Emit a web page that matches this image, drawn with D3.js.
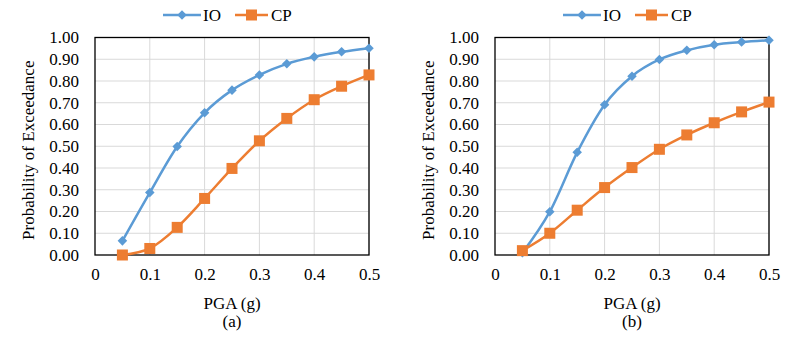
<!DOCTYPE html>
<html>
<head>
<meta charset="utf-8">
<script src="https://cdn.jsdelivr.net/npm/d3@7/dist/d3.min.js"></script>
<style>
  html, body { margin: 0; padding: 0; background: #fff; }
  svg, svg text { font-family: "Liberation Serif", "Times New Roman", Times, serif !important; }
</style>
</head>
<body>
<svg id="chart" width="800" height="355"></svg>
<script>
// ---- data ----
const pga = [0.05, 0.10, 0.15, 0.20, 0.25, 0.30, 0.35, 0.40, 0.45, 0.50];
const ioA = [0.065, 0.287, 0.499, 0.654, 0.758, 0.828, 0.879, 0.911, 0.934, 0.951];
const cpA = [0.000, 0.030, 0.127, 0.260, 0.398, 0.525, 0.628, 0.714, 0.776, 0.828];
const ioB = [0.010, 0.199, 0.472, 0.691, 0.822, 0.899, 0.941, 0.967, 0.979, 0.987];
const cpB = [0.020, 0.100, 0.206, 0.310, 0.402, 0.486, 0.552, 0.608, 0.658, 0.703];
const xTicks = [0, 0.1, 0.2, 0.3, 0.4, 0.5];
const yTicks = [0, 0.1, 0.2, 0.3, 0.4, 0.5, 0.6, 0.7, 0.8, 0.9, 1.0];
const seriesNames = ["IO", "CP"];
const panelLabels = ["(a)", "(b)"];
const xTitle = "PGA (g)";
const yTitle = "Probability of Exceedance";

const FONT = '"Liberation Serif", "Times New Roman", Times, serif';
const colors = { IO: "#5B9BD5", CP: "#ED7D31" };
const svg = d3.select("#chart");
svg.append("rect").attr("width", 800).attr("height", 355).attr("fill", "#fff");

const panels = [
  { io: ioA, cp: cpA, label: panelLabels[0], ox: 0 },
  { io: ioB, cp: cpB, label: panelLabels[1], ox: 400 }
];

const diamond = d3.symbol().type(d3.symbolDiamond2 || d3.symbolDiamond).size(58);

panels.forEach(p => {
  const g = svg.append("g").attr("transform", `translate(${p.ox},0)`);
  const left = 95, right = 369, top = 37.5, bottom = 255;
  const x = d3.scaleLinear().domain([0, 0.5]).range([left, right]);
  const y = d3.scaleLinear().domain([0, 1]).range([bottom, top]);

  // gridlines
  g.append("g").selectAll("line").data(yTicks.slice(1)).join("line")
    .attr("x1", left).attr("x2", right)
    .attr("y1", d => y(d)).attr("y2", d => y(d))
    .attr("stroke", "#D9D9D9").attr("stroke-width", 1);
  g.append("g").selectAll("line").data(xTicks.slice(1)).join("line")
    .attr("x1", d => x(d)).attr("x2", d => x(d))
    .attr("y1", top).attr("y2", bottom)
    .attr("stroke", "#D9D9D9").attr("stroke-width", 1);

  // plot border
  g.append("rect").attr("x", left).attr("y", top)
    .attr("width", right - left).attr("height", bottom - top)
    .attr("fill", "none").attr("stroke", "#000").attr("stroke-width", 1.3);

  // y axis labels
  const yAxis = d3.axisLeft(y).tickValues(yTicks).tickFormat(d3.format(".2f")).tickSize(0).tickPadding(16);
  const ya = g.append("g").attr("transform", `translate(${left},0)`).call(yAxis)
    .attr("font-family", FONT).attr("font-size", 17);
  ya.select(".domain").remove();
  ya.selectAll("text").attr("fill", "#000").style("font-family", FONT).style("font-size", "17px");

  // x axis labels
  const xAxis = d3.axisBottom(x).tickValues(xTicks).tickFormat(d => d === 0 ? "0" : d3.format(".1f")(d)).tickSize(0).tickPadding(13);
  const xa = g.append("g").attr("transform", `translate(0,${bottom})`).call(xAxis)
    .attr("font-family", FONT).attr("font-size", 17);
  xa.select(".domain").remove();
  xa.selectAll("text").attr("fill", "#000").style("font-family", FONT).style("font-size", "17px");

  // axis titles
  const txt = sel => sel.style("font-family", FONT).style("font-size", "17px").attr("fill", "#000");
  g.append("text").attr("x", (left + right) / 2).attr("y", 309)
    .attr("text-anchor", "middle").call(txt).text(xTitle);
  g.append("text").attr("x", (left + right) / 2).attr("y", 327)
    .attr("text-anchor", "middle").call(txt).text(p.label);
  g.append("text")
    .attr("transform", `translate(34,${(top + bottom) / 2 + 4}) rotate(-90)`)
    .attr("text-anchor", "middle").call(txt).text(yTitle);

  // lines
  const line = d3.line().x(d => x(d[0])).y(d => y(d[1])).curve(d3.curveCardinal.tension(0));
  const io = pga.map((v, i) => [v, p.io[i]]);
  const cp = pga.map((v, i) => [v, p.cp[i]]);

  g.append("path").datum(io).attr("d", line).attr("fill", "none")
    .attr("stroke", colors.IO).attr("stroke-width", 2.5);
  g.append("g").selectAll("path").data(io).join("path")
    .attr("d", diamond).attr("transform", d => `translate(${x(d[0])},${y(d[1])})`)
    .attr("fill", colors.IO);

  g.append("path").datum(cp).attr("d", line).attr("fill", "none")
    .attr("stroke", colors.CP).attr("stroke-width", 2.5);
  g.append("g").selectAll("rect").data(cp).join("rect")
    .attr("x", d => x(d[0]) - 5.5).attr("y", d => y(d[1]) - 5.5)
    .attr("width", 11).attr("height", 11).attr("fill", colors.CP);

  // legend
  const lg = g.append("g");
  const ly = 15;
  lg.append("line").attr("x1", 163).attr("x2", 201).attr("y1", ly).attr("y2", ly)
    .attr("stroke", colors.IO).attr("stroke-width", 2.5);
  lg.append("path").attr("d", diamond).attr("transform", `translate(182,${ly})`).attr("fill", colors.IO);
  lg.append("text").attr("x", 203).attr("y", ly + 6).call(txt).text(seriesNames[0]);
  lg.append("line").attr("x1", 235).attr("x2", 268).attr("y1", ly).attr("y2", ly)
    .attr("stroke", colors.CP).attr("stroke-width", 2.5);
  lg.append("rect").attr("x", 251.5 - 5.5).attr("y", ly - 5.5).attr("width", 11).attr("height", 11).attr("fill", colors.CP);
  lg.append("text").attr("x", 271).attr("y", ly + 6).call(txt).text(seriesNames[1]);
});
</script>
</body>
</html>
